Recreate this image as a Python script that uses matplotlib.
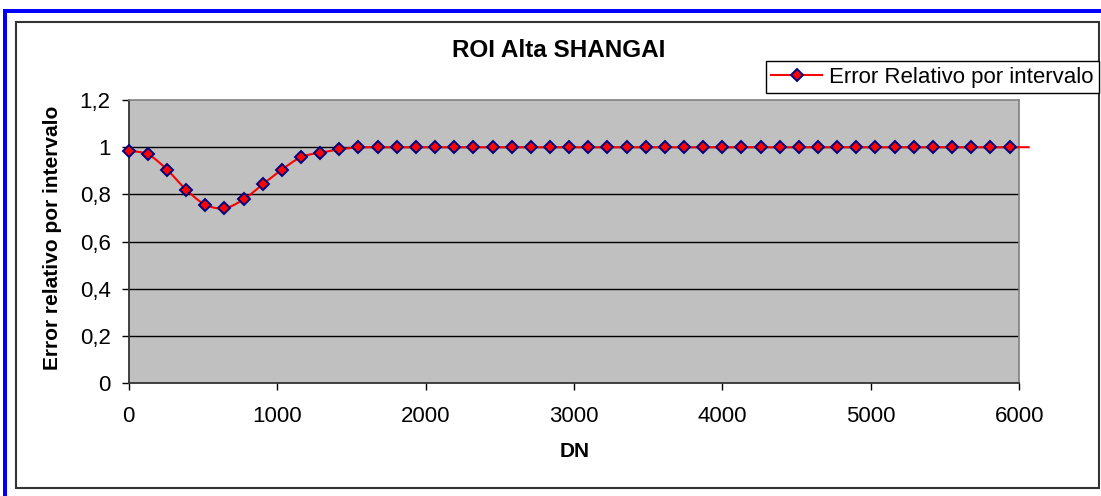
import matplotlib
matplotlib.use("Agg")
import matplotlib.pyplot as plt
import numpy as np
from matplotlib.patches import Rectangle
from matplotlib.lines import Line2D

plt.rcParams['font.family'] = ['Liberation Sans', 'DejaVu Sans']

W, H = 1101, 496

# ---- data ----
dn = [0, 129, 258, 387, 516, 645, 774, 903, 1032, 1161, 1290, 1419, 1548,
      1677, 1806, 1935, 2064, 2193, 2322, 2451, 2580, 2709, 2838, 2967,
      3096, 3225, 3354, 3483, 3612, 3741, 3870, 3999, 4128, 4257, 4386,
      4515, 4644, 4773, 4902, 5031, 5160, 5289, 5418, 5547, 5676, 5805,
      5934, 6063]
error_rel = [0.984, 0.970, 0.905, 0.820, 0.757, 0.742, 0.779, 0.843, 0.905,
             0.958, 0.977, 0.991, 0.999, 1.0, 1.0, 1.0, 1.0, 1.0, 1.0, 1.0,
             1.0, 1.0, 1.0, 1.0, 1.0, 1.0, 1.0, 1.0, 1.0, 1.0, 1.0, 1.0,
             1.0, 1.0, 1.0, 1.0, 1.0, 1.0, 1.0, 1.0, 1.0, 1.0, 1.0, 1.0,
             1.0, 1.0, 1.0, 1.0]
title = "ROI Alta SHANGAI"
series_name = "Error Relativo por intervalo"
xlabel = "DN"
ylabel = "Error relativo por intervalo"
xticks = [0, 1000, 2000, 3000, 4000, 5000, 6000]
yticks = [0, 0.2, 0.4, 0.6, 0.8, 1.0, 1.2]
ytick_labels = ["0", "0,2", "0,4", "0,6", "0,8", "1", "1,2"]


def smooth(xs, ys, n=24):
    """Excel-like smoothed line (cardinal Bezier through the points)."""
    xs = np.asarray(xs, float)
    ys = np.asarray(ys, float)
    px, py = [xs[0]], [ys[0]]
    m = len(xs)
    t = np.linspace(0, 1, n + 1)[1:]
    for i in range(m - 1):
        i0, i3 = max(i - 1, 0), min(i + 2, m - 1)
        p0 = np.array([xs[i], ys[i]])
        p3 = np.array([xs[i + 1], ys[i + 1]])
        c1 = p0 + (np.array([xs[i + 1], ys[i + 1]]) - np.array([xs[i0], ys[i0]])) / 6
        c2 = p3 - (np.array([xs[i3], ys[i3]]) - np.array([xs[i], ys[i]])) / 6
        b = ((1 - t) ** 3)[:, None] * p0 + (3 * (1 - t) ** 2 * t)[:, None] * c1 \
            + (3 * (1 - t) * t ** 2)[:, None] * c2 + (t ** 3)[:, None] * p3
        px.extend(b[:, 0]); py.extend(b[:, 1])
    return np.array(px), np.array(py)


fig = plt.figure(figsize=(W / 100, H / 100), dpi=100)
fig.patch.set_facecolor('white')


def fx(x):
    return x / W


def fy(y):
    return 1 - y / H


# blue outer frame (extends beyond right/bottom edges)
fig.add_artist(Rectangle((fx(3.3), 0), 4.0 / W, fy(9.3), transform=fig.transFigure,
                         facecolor='#0000FF', edgecolor='none'))
fig.add_artist(Rectangle((fx(3.3), fy(12.7)), 1 - fx(3.3), 3.4 / H, transform=fig.transFigure,
                         facecolor='#0000FF', edgecolor='none'))
# inner chart border
fig.add_artist(Rectangle((fx(16), fy(487.7)), fx(1098.7) - fx(16), fy(21.5) - fy(487.7),
                         transform=fig.transFigure, facecolor='none',
                         edgecolor='#333333', linewidth=1.5))

ax = fig.add_axes([fx(128.7), fy(383.3), fx(1019.3) - fx(128.7), fy(100) - fy(383.3)])
ax.set_facecolor('#C0C0C0')
ax.set_xlim(0, 6000)
ax.set_ylim(0, 1.2)
ax.set_xticks(xticks)
ax.set_xticklabels([str(v) for v in xticks])
ax.set_yticks(yticks)
ax.set_yticklabels(ytick_labels)
ax.tick_params(axis='x', direction='out', length=5, width=1, pad=11, labelsize=16, colors='black')
ax.tick_params(axis='y', direction='out', length=5, width=1, pad=8, labelsize=16, colors='black')
for yv in yticks[1:-1]:
    ax.axhline(yv, color='black', linewidth=1, zorder=1)
for s in ['top', 'right']:
    ax.spines[s].set_color('#808080')
    ax.spines[s].set_linewidth(1.2)
for s in ['left', 'bottom']:
    ax.spines[s].set_color('#333333')
    ax.spines[s].set_linewidth(1.3)

sx, sy = smooth(dn, error_rel)
ax.plot(sx, sy, color='#FF0000', linewidth=1.5, zorder=3, clip_on=False)
inside = [i for i, v in enumerate(dn) if v <= 6000]
ax.plot([dn[i] for i in inside], [error_rel[i] for i in inside], linestyle='none',
        marker='D', markersize=6.3, markerfacecolor='#FF0000',
        markeredgecolor='#000080', markeredgewidth=1.4, zorder=4, clip_on=False)

handle = Line2D([], [], color='#FF0000', linewidth=1.5, marker='D', markersize=6.3,
                markerfacecolor='#FF0000', markeredgecolor='#000080', markeredgewidth=1.4)
leg = fig.legend([handle], [series_name], loc='upper right',
                 bbox_to_anchor=(fx(1099), fy(61)), bbox_transform=fig.transFigure,
                 fontsize=16, frameon=True, fancybox=False, shadow=False,
                 borderaxespad=0, borderpad=0.25, handlelength=2.3, handletextpad=0.3)
leg.get_frame().set_edgecolor('black')
leg.get_frame().set_linewidth(1.0)
leg.get_frame().set_alpha(1)

fig.text(fx(559), fy(57.3), title, ha='center', va='baseline', fontsize=17.5, fontweight='bold')
fig.text(fx(575), fy(457.3), xlabel, ha='center', va='baseline', fontsize=15, fontweight='bold')
fig.text(fx(53), fy(238), ylabel, ha='center', va='center', rotation=90,
         fontsize=15, fontweight='bold')

fig.savefig('out.png', dpi=100)
